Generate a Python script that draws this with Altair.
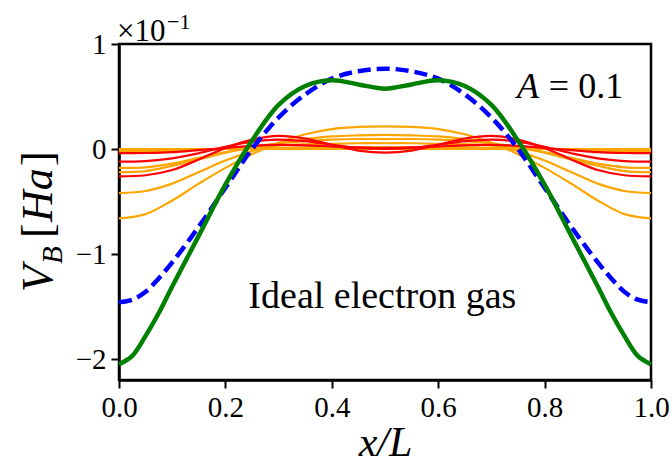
import altair as alt
import pandas as pd

XS = [0.0, 0.05, 0.1, 0.15, 0.2, 0.25, 0.3, 0.35, 0.4, 0.45, 0.5,
      0.55, 0.6, 0.65, 0.7, 0.75, 0.8, 0.85, 0.9, 0.95, 1.0]
XS_THICK = [0.0, 0.025, 0.05, 0.075, 0.1, 0.15, 0.2, 0.25, 0.3, 0.35, 0.4, 0.45, 0.5,
            0.55, 0.6, 0.65, 0.7, 0.75, 0.8, 0.85, 0.9, 0.925, 0.95, 0.975, 1.0]

GREEN = [-2.05, -1.97, -1.78, -1.56, -1.31, -0.825, -0.34, 0.08, 0.42, 0.60, 0.655, 0.615, 0.575,
         0.615, 0.655, 0.60, 0.42, 0.08, -0.34, -0.825, -1.31, -1.56, -1.78, -1.97, -2.05]
BLUE = [-1.46, -1.435, -1.36, -1.23, -1.08, -0.74, -0.37, 0.0, 0.30, 0.52, 0.67, 0.74, 0.765,
        0.74, 0.67, 0.52, 0.30, 0.0, -0.37, -0.74, -1.08, -1.23, -1.36, -1.435, -1.46]

ORANGE_A = [-0.66, -0.62, -0.49, -0.33, -0.18, -0.05, 0.06, 0.14, 0.19, 0.21, 0.215,
            0.21, 0.19, 0.14, 0.06, -0.05, -0.18, -0.33, -0.49, -0.62, -0.66]
ORANGE_B = [-0.42, -0.40, -0.33, -0.22, -0.11, -0.02, 0.05, 0.095, 0.12, 0.13, 0.135,
            0.13, 0.12, 0.095, 0.05, -0.02, -0.11, -0.22, -0.33, -0.40, -0.42]
ORANGE_C = [-0.22, -0.21, -0.16, -0.10, -0.035, 0.02, 0.055, 0.075, 0.09, 0.095, 0.095,
            0.095, 0.09, 0.075, 0.055, 0.02, -0.035, -0.10, -0.16, -0.21, -0.22]
ORANGE_D = [-0.18, -0.175, -0.14, -0.085, -0.03, 0.01, 0.035, 0.045, 0.05, 0.055, 0.055,
            0.055, 0.05, 0.045, 0.035, 0.01, -0.03, -0.085, -0.14, -0.175, -0.18]
ORANGE_E = [-0.02, -0.02, -0.015, -0.005, 0.0, 0.005, 0.01, 0.015, 0.015, 0.015, 0.015,
            0.015, 0.015, 0.015, 0.01, 0.005, 0.0, -0.005, -0.015, -0.02, -0.02]
ORANGE_F = [0.0, 0.0, 0.0, 0.0, 0.0, 0.0, 0.0, 0.0, 0.0, 0.0, 0.0,
            0.0, 0.0, 0.0, 0.0, 0.0, 0.0, 0.0, 0.0, 0.0, 0.0]
RED_1 = [-0.26, -0.25, -0.20, -0.10, 0.01, 0.09, 0.125, 0.10, 0.04, -0.015, -0.035,
         -0.015, 0.04, 0.10, 0.125, 0.09, 0.01, -0.10, -0.20, -0.25, -0.26]
RED_2 = [-0.12, -0.115, -0.09, -0.04, 0.02, 0.07, 0.09, 0.075, 0.04, 0.01, 0.0,
         0.01, 0.04, 0.075, 0.09, 0.07, 0.02, -0.04, -0.09, -0.115, -0.12]
RED_3 = [-0.04, -0.038, -0.03, -0.01, 0.01, 0.03, 0.04, 0.035, 0.025, 0.015, 0.01,
         0.015, 0.025, 0.035, 0.04, 0.03, 0.01, -0.01, -0.03, -0.038, -0.04]

THIN = {"o1": ORANGE_A, "o2": ORANGE_B, "o3": ORANGE_C, "o4": ORANGE_D,
        "o5": ORANGE_E, "o6": ORANGE_F, "r1": RED_1, "r2": RED_2, "r3": RED_3}
THIN_COLORS = {"o1": "#FFA500", "o2": "#FFA500", "o3": "#FFA500", "o4": "#FFA500",
               "o5": "#FFA500", "o6": "#FFA500", "r1": "#FF0000", "r2": "#FF0000",
               "r3": "#FF0000"}

X_TICKS = [0.0, 0.2, 0.4, 0.6, 0.8, 1.0]
Y_TICKS = [-2, -1, 0, 1]

FONT = "Liberation Serif"
INTERP = "catmull-rom"

rows = []
for name, vals in THIN.items():
    for xv, yv in zip(XS, vals):
        rows.append({"x": xv, "v": yv, "s": name})
df_thin = pd.DataFrame(rows)
df_green = pd.DataFrame({"x": XS_THICK, "v": GREEN})
df_blue = pd.DataFrame({"x": XS_THICK, "v": BLUE})

xscale = alt.Scale(domain=[0, 1], nice=False, zero=False)
yscale = alt.Scale(domain=[-2.2, 1], nice=False, zero=False)

xenc = alt.X("x:Q", scale=xscale,
             axis=alt.Axis(values=X_TICKS, format=".1f", title="x/L",
                           titleFontStyle="italic", titleFontSize=42,
                           titleFont=FONT, titleFontWeight="normal",
                           titlePadding=0, labelFlush=False))
yenc = alt.Y("v:Q", scale=yscale,
             axis=alt.Axis(values=Y_TICKS, format="d", title=None, labelFlush=False))

thin = alt.Chart(df_thin).mark_line(strokeWidth=2.2, interpolate=INTERP).encode(
    x=xenc, y=yenc,
    color=alt.Color("s:N", legend=None,
                    scale=alt.Scale(domain=list(THIN_COLORS.keys()),
                                    range=list(THIN_COLORS.values()))),
)
blue = alt.Chart(df_blue).mark_line(strokeWidth=4.5, color="#0000FF",
                                    strokeDash=[13, 6], interpolate=INTERP).encode(
    x="x:Q", y="v:Q")
green = alt.Chart(df_green).mark_line(strokeWidth=4.5, color="#008000",
                                      interpolate=INTERP).encode(
    x="x:Q", y="v:Q")

ann = alt.Chart(pd.DataFrame({"x": [0.495], "v": [-1.41], "t": ["Ideal electron gas"]})).mark_text(
    font=FONT, fontSize=38, color="black", baseline="middle", align="center"
).encode(x="x:Q", y="v:Q", text="t:N")

a_lab = alt.Chart(pd.DataFrame({"x": [0.748], "v": [0.59], "t": ["A"]})).mark_text(
    font=FONT, fontSize=36, fontStyle="italic", color="black", baseline="middle", align="left"
).encode(x="x:Q", y="v:Q", text="t:N")
a_val = alt.Chart(pd.DataFrame({"x": [0.808], "v": [0.59], "t": ["= 0.1"]})).mark_text(
    font=FONT, fontSize=36, color="black", baseline="middle", align="left"
).encode(x="x:Q", y="v:Q", text="t:N")


def label(txt, x, y, size, style="normal", angle=0, align="left", baseline="alphabetic"):
    return alt.Chart(pd.DataFrame({"t": [txt]})).mark_text(
        font=FONT, fontSize=size, fontStyle=style, color="black",
        align=align, baseline=baseline, angle=angle
    ).encode(text="t:N", x=alt.value(x), y=alt.value(y))


mult = label("×10", -2, -3, 31)
mult_exp = label("−1", 48, -15, 22)

# y-axis title V_B [Ha], rotated
yt_V = label("V", -67, 248, 44, style="italic", angle=270)
yt_B = label("B", -57, 220, 29, style="italic", angle=270)
yt_lb = label("[", -67, 194, 44, angle=270)
yt_Ha = label("Ha", -67, 178, 44, style="italic", angle=270)
yt_rb = label("]", -67, 122, 44, angle=270)

chart = alt.layer(thin, blue, green, ann, a_lab, a_val, mult, mult_exp,
                  yt_V, yt_B, yt_lb, yt_Ha, yt_rb).properties(
    width=532, height=336,
    background="white",
    autosize=alt.AutoSizeParams(type="none"),
    padding={"left": 119, "top": 44, "right": 21, "bottom": 90},
).configure_view(stroke="black", strokeWidth=2.5).configure_axis(
    grid=False, domainColor="black", domainWidth=2.5,
    tickColor="black", tickWidth=2, tickSize=8,
    labelFont=FONT, labelFontSize=29, labelColor="black", labelPadding=5,
    titleColor="black",
)

chart.save("out.html", embed_options={"renderer": "svg", "actions": False})
